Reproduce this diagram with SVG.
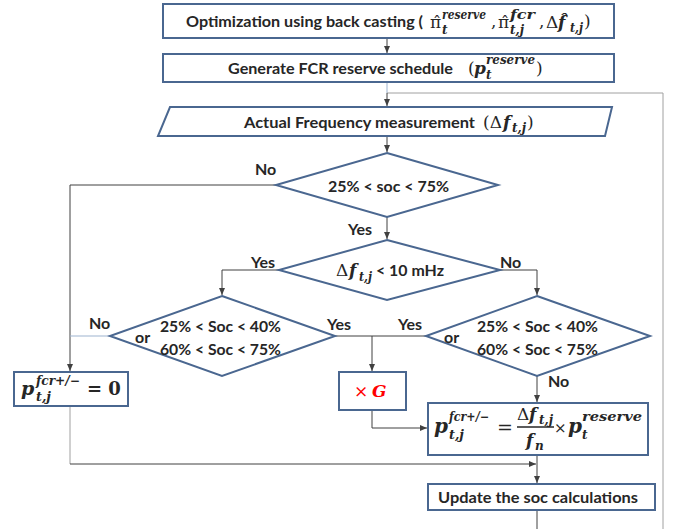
<svg xmlns="http://www.w3.org/2000/svg" width="677" height="529" viewBox="0 0 677 529">
<style>
.box{fill:#fff;stroke:#4a6790;stroke-width:2}
.ln{fill:none;stroke:#404040;stroke-width:1}
.lnl{fill:none;stroke:#a0a0a0;stroke-width:1}
.lnb{fill:none;stroke:#9db3cf;stroke-width:1}
.t{font-family:Lato,"Liberation Sans",sans-serif;font-weight:bold;font-size:16px;fill:#262626}
.lb{font-family:Lato,"Liberation Sans",sans-serif;font-weight:bold;font-size:16px;fill:#262626}
.m{font-family:"DejaVu Serif",serif;font-weight:bold;font-style:italic;font-size:17px;fill:#262626}
.mu{font-family:"DejaVu Serif",serif;font-size:17px;fill:#262626}
.s{font-family:"DejaVu Serif",serif;font-weight:bold;font-style:italic;font-size:12px;fill:#262626}
</style>
<defs>
<marker id="ah" markerWidth="8" markerHeight="8" refX="7" refY="4" orient="auto" markerUnits="userSpaceOnUse">
<path d="M0,1 L7,4 L0,7 z" fill="#404040"/>
</marker>
</defs>

<g id="connectors">
<path class="ln" d="M387,38 V53" marker-end="url(#ah)"/>
<path class="lnb" d="M387,82 V93"/>
<path class="lnl" d="M387,93 H663 V529"/>
<path class="ln" d="M387,93 V106" marker-end="url(#ah)"/>
<path class="ln" d="M387,136 V152" marker-end="url(#ah)"/>
<path class="ln" d="M387,217 V239" marker-end="url(#ah)"/>
<path class="ln" d="M276,185 H70 V371" marker-end="url(#ah)"/>
<path class="ln" d="M279,270 H222 V295" marker-end="url(#ah)"/>
<path class="ln" d="M500,270 H537 V295" marker-end="url(#ah)"/>
<path class="lnb" d="M110,336 H70"/>
<path class="ln" d="M335,336 H426"/>
<path class="ln" d="M372,336 V371" marker-end="url(#ah)"/>
<path class="ln" d="M537,376 V402" marker-end="url(#ah)"/>
<path class="ln" d="M372,410 V428 H427" marker-end="url(#ah)"/>
<path class="lnl" d="M70,406 V464"/>
<path class="ln" d="M70,464 H536" marker-end="url(#ah)"/>
<path class="ln" d="M537,455 V483" marker-end="url(#ah)"/>
<path class="ln" d="M537,510 V529"/>
</g>

<g id="labels">
<text class="lb" x="255" y="175">No</text>
<text class="lb" x="348" y="235">Yes</text>
<text class="lb" x="251" y="268">Yes</text>
<text class="lb" x="500" y="268">No</text>
<text class="lb" x="89" y="329">No</text>
<text class="lb" x="327" y="330">Yes</text>
<text class="lb" x="398" y="330">Yes</text>
<text class="lb" x="548" y="387">No</text>
</g>

<g id="n1">
<rect class="box" x="163" y="4" width="451" height="34"/>
<text class="t" x="186" y="27" textLength="237" lengthAdjust="spacingAndGlyphs">Optimization using back casting (</text>
<text class="mu" x="430" y="28">π̂</text>
<text class="s" x="442" y="19" textLength="44" lengthAdjust="spacingAndGlyphs">reserve</text>
<text class="s" x="442" y="34">t</text>
<text class="mu" x="491" y="27">,</text>
<text class="mu" x="498" y="28">π̂</text>
<text class="s" x="510" y="19" textLength="25" lengthAdjust="spacingAndGlyphs">fcr</text>
<text class="s" x="510" y="34" textLength="14" lengthAdjust="spacingAndGlyphs">t,j</text>
<text class="mu" x="539" y="27">,</text>
<text class="mu" x="546" y="28">Δ</text>
<text class="m" x="558" y="28">f̂</text>
<text class="s" x="570" y="32" textLength="13" lengthAdjust="spacingAndGlyphs">t,j</text>
<text class="mu" x="584" y="27">)</text>
</g>

<g id="n2">
<rect class="box" x="163" y="54" width="451" height="28"/>
<text class="t" x="228" y="74" textLength="225" lengthAdjust="spacingAndGlyphs">Generate  FCR reserve schedule</text>
<text class="mu" x="468" y="74">(</text>
<text class="m" x="474" y="74">p</text>
<text class="s" x="486" y="64" textLength="49" lengthAdjust="spacingAndGlyphs">reserve</text>
<text class="s" x="486" y="79">t</text>
<text class="mu" x="536" y="74">)</text>
</g>

<g id="n3">
<polygon class="box" points="170,107 612,107 605,136 158,136"/>
<text class="t" x="244" y="128" textLength="231" lengthAdjust="spacingAndGlyphs">Actual Frequency measurement</text>
<text class="mu" x="483" y="128">(Δ</text>
<text class="m" x="503" y="128">f</text>
<text class="s" x="512" y="132" textLength="14" lengthAdjust="spacingAndGlyphs">t,j</text>
<text class="mu" x="527" y="128">)</text>
</g>

<g id="d1">
<polygon class="box" points="387,153 498,185 387,217 276,185"/>
<text class="t" x="328" y="192" textLength="121" lengthAdjust="spacingAndGlyphs">25% &lt; soc &lt; 75%</text>
</g>

<g id="d2">
<polygon class="box" points="387,240 500,270 387,300 279,270"/>
<text class="mu" x="336" y="276">Δ</text>
<text class="m" x="349" y="276">f</text>
<text class="s" x="359" y="281" textLength="13" lengthAdjust="spacingAndGlyphs">t,j</text>
<text class="t" x="376" y="276" textLength="68" lengthAdjust="spacingAndGlyphs">&lt; 10 mHz</text>
</g>

<g id="d3">
<polygon class="box" points="222,296 335,336 222,376 110,336"/>
<text class="t" x="160" y="332" textLength="121" lengthAdjust="spacingAndGlyphs">25% &lt; Soc &lt; 40%</text>
<text class="t" x="160" y="355" textLength="121" lengthAdjust="spacingAndGlyphs">60% &lt; Soc &lt; 75%</text>
<text class="t" x="135" y="343">or</text>
</g>

<g id="d4">
<polygon class="box" points="537,296 650,336 537,376 426,336"/>
<text class="t" x="477" y="332" textLength="121" lengthAdjust="spacingAndGlyphs">25% &lt; Soc &lt; 40%</text>
<text class="t" x="477" y="355" textLength="121" lengthAdjust="spacingAndGlyphs">60% &lt; Soc &lt; 75%</text>
<text class="t" x="444" y="343">or</text>
</g>

<g id="n4">
<rect class="box" x="14" y="372" width="114" height="34"/>
<text class="m" x="21" y="395" style="font-size:19px">p</text>
<text class="s" x="36" y="385" textLength="44" lengthAdjust="spacingAndGlyphs">fcr+/−</text>
<text class="s" x="36" y="401" textLength="15" lengthAdjust="spacingAndGlyphs">t,j</text>
<text class="mu" x="87" y="395" style="font-weight:bold;font-size:18px">= 0</text>
</g>

<g id="n5">
<rect class="box" x="339" y="372" width="67" height="38"/>
<text class="mu" x="354" y="397" style="fill:#ff0000">×</text>
<text class="m" x="372" y="397" style="fill:#ff0000">G</text>
</g>

<g id="n6">
<rect class="box" x="428" y="403" width="220" height="52"/>
<text class="m" x="434" y="433" style="font-size:20px">p</text>
<text class="s" x="449" y="421" textLength="40" lengthAdjust="spacingAndGlyphs">fcr+/−</text>
<text class="s" x="449" y="439" textLength="15" lengthAdjust="spacingAndGlyphs">t,j</text>
<text class="mu" x="497" y="434" style="font-size:19px">=</text>
<text class="mu" x="517" y="420">Δ</text>
<text class="m" x="529" y="420">f</text>
<text class="s" x="539" y="424" textLength="14" lengthAdjust="spacingAndGlyphs">t,j</text>
<line x1="517" y1="427" x2="554" y2="427" stroke="#262626" stroke-width="1.5"/>
<text class="m" x="526" y="446">f</text>
<text class="s" x="535" y="450">n</text>
<text class="mu" x="554" y="433" style="font-size:15px">×</text>
<text class="m" x="568" y="433" style="font-size:20px">p</text>
<text class="s" x="582" y="421" textLength="60" lengthAdjust="spacingAndGlyphs">reserve</text>
<text class="s" x="582" y="439">t</text>
</g>

<g id="n7">
<rect class="box" x="428" y="484" width="227" height="26"/>
<text class="t" x="438" y="503" textLength="200" lengthAdjust="spacingAndGlyphs">Update the soc calculations</text>
</g>
</svg>
